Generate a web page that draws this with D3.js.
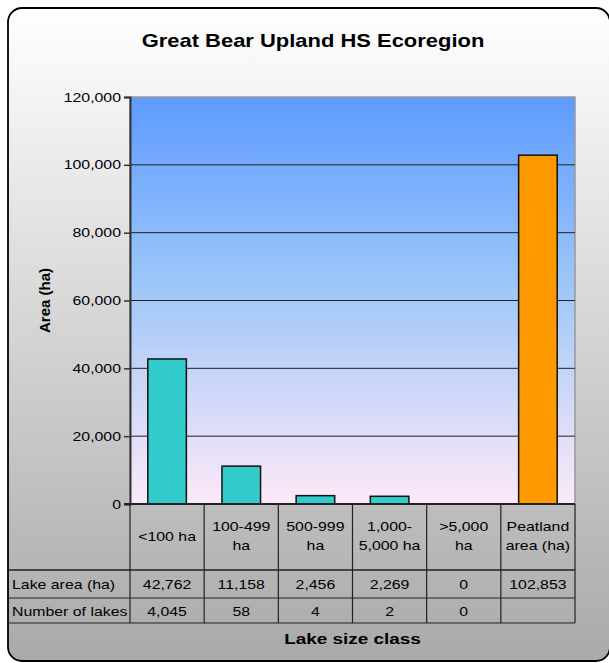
<!DOCTYPE html>
<html lang="en">
<head>
<meta charset="UTF-8">
<title>Great Bear Upland HS Ecoregion</title>
<script src="https://d3js.org/d3.v7.min.js"></script>
<style>
  body { margin: 0; background: #fff; }
  text { font-family: "Liberation Sans", Arial, sans-serif; fill: #000; }
</style>
</head>
<body>
<div id="chart"></div>
<script>
// data
const categories = ["<100 ha", "100-499 ha", "500-999 ha", "1,000-5,000 ha", ">5,000 ha", "Peatland area (ha)"];
const catLines = [["<100 ha"], ["100-499", "ha"], ["500-999", "ha"], ["1,000-", "5,000 ha"], [">5,000", "ha"], ["Peatland", "area (ha)"]];
const lakeArea = [42762, 11158, 2456, 2269, 0, 102853];
const numberOfLakes = ["4,045", "58", "4", "2", "0", ""];
const yTicks = [0, 20000, 40000, 60000, 80000, 100000, 120000];

const width = 609, height = 663;
const plot = { left: 130, right: 575, top: 97, bottom: 504 };
const rowBottoms = [570, 598, 623];
const stretch = 1.22; // the original text is a bit wider than Arial

const svg = d3.select("#chart").append("svg")
  .attr("width", width).attr("height", height);

const defs = svg.append("defs");
const bgGrad = defs.append("linearGradient").attr("id", "bg")
  .attr("x1", 0).attr("y1", 0).attr("x2", 0).attr("y2", 1);
bgGrad.append("stop").attr("offset", "0%").attr("stop-color", "#ffffff");
bgGrad.append("stop").attr("offset", "100%").attr("stop-color", "#a9a9a9");

const plotGrad = defs.append("linearGradient").attr("id", "plotbg")
  .attr("x1", 0).attr("y1", 0).attr("x2", 0).attr("y2", 1);
plotGrad.append("stop").attr("offset", "0%").attr("stop-color", "#5e9bff");
plotGrad.append("stop").attr("offset", "45%").attr("stop-color", "#9cc6f8");
plotGrad.append("stop").attr("offset", "100%").attr("stop-color", "#fde9f8");

// chart frame
svg.append("rect")
  .attr("x", 8).attr("y", 8).attr("width", 602).attr("height", 653)
  .attr("rx", 14).attr("ry", 14)
  .attr("fill", "url(#bg)").attr("stroke", "#000").attr("stroke-width", 1.8);

svg.append("text")
  .attr("class", "wide")
  .attr("x", 313).attr("y", 47)
  .attr("text-anchor", "middle")
  .style("font-size", "18px").style("font-weight", "bold")
  .text("Great Bear Upland HS Ecoregion");

const x = d3.scaleBand().domain(categories).range([plot.left, plot.right]);
const y = d3.scaleLinear().domain([0, 120000]).range([plot.bottom, plot.top]);

// plot area
svg.append("rect")
  .attr("x", plot.left).attr("y", plot.top)
  .attr("width", plot.right - plot.left).attr("height", plot.bottom - plot.top)
  .attr("fill", "url(#plotbg)").attr("stroke", "#999").attr("stroke-width", 1.5);

// gridlines
svg.append("g").selectAll("line")
  .data(yTicks.filter(d => d > 0 && d < 120000))
  .join("line")
  .attr("x1", plot.left).attr("x2", plot.right)
  .attr("y1", d => y(d)).attr("y2", d => y(d))
  .attr("stroke", "#222").attr("stroke-width", 1);

// y axis
const yAxis = svg.append("g")
  .attr("transform", `translate(${plot.left},0)`)
  .call(d3.axisLeft(y).tickValues(yTicks).tickSize(6).tickPadding(3)
    .tickFormat(d3.format(",")));
yAxis.select(".domain").attr("stroke", "#333").attr("stroke-width", 2);
yAxis.selectAll(".tick line").attr("stroke", "#333").attr("stroke-width", 1.5);
yAxis.selectAll(".tick text").attr("class", "wide").style("font-size", "13px")
  .style("font-family", "'Liberation Sans', Arial, sans-serif").attr("fill", "#000");

svg.append("text")
  .attr("transform", `translate(50,${(plot.top + plot.bottom) / 2}) rotate(-90)`)
  .attr("text-anchor", "middle")
  .style("font-size", "15px").style("font-weight", "bold")
  .text("Area (ha)");

// bars
const barW = x.bandwidth() * 0.52;
svg.append("g").selectAll("rect")
  .data(lakeArea)
  .join("rect")
  .attr("x", (d, i) => x(categories[i]) + (x.bandwidth() - barW) / 2)
  .attr("y", d => y(d))
  .attr("width", barW)
  .attr("height", d => y(0) - y(d))
  .attr("fill", (d, i) => i === 5 ? "#ff9900" : "#33cccc")
  .attr("stroke", "#111").attr("stroke-width", d => d > 0 ? 1.5 : 0);

// data table
const table = svg.append("g").attr("stroke", "#222").attr("stroke-width", 1.2);
table.append("line").attr("x1", plot.left - 6).attr("x2", plot.right)
  .attr("y1", plot.bottom).attr("y2", plot.bottom).attr("stroke-width", 2);
rowBottoms.forEach((yy, i) => {
  table.append("line").attr("x1", 8).attr("x2", plot.right)
    .attr("y1", yy).attr("y2", yy).attr("stroke-width", i === 0 ? 1.5 : 1.2);
});
x.domain().concat([null]).forEach(c => {
  const xx = c === null ? plot.right : x(c);
  table.append("line").attr("x1", xx).attr("x2", xx)
    .attr("y1", plot.bottom).attr("y2", rowBottoms[2]);
});

svg.append("g").selectAll("text")
  .data(catLines)
  .join("text")
  .attr("class", "wide")
  .attr("text-anchor", "middle")
  .style("font-size", "13px")
  .attr("x", (d, i) => x(categories[i]) + x.bandwidth() / 2)
  .attr("y", d => d.length === 1 ? 541 : 531)
  .selectAll("tspan")
  .data(d => d)
  .join("tspan")
  .attr("x", function () { return this.parentNode.getAttribute("x"); })
  .attr("dy", (d, i) => i === 0 ? 0 : 19)
  .text(d => d);

const rows = [
  { label: "Lake area (ha)", values: lakeArea.map(d3.format(",")), y: 589 },
  { label: "Number of lakes", values: numberOfLakes, y: 616 }
];
rows.forEach(r => {
  svg.append("text").attr("class", "wide").attr("x", 12).attr("y", r.y)
    .style("font-size", "13px").text(r.label);
  svg.append("g").selectAll("text")
    .data(r.values)
    .join("text")
    .attr("class", "wide")
    .attr("text-anchor", "middle")
    .style("font-size", "13px")
    .attr("x", (d, i) => x(categories[i]) + x.bandwidth() / 2)
    .attr("y", r.y)
    .text(d => d);
});

svg.append("text")
  .attr("class", "wide")
  .attr("x", (plot.left + plot.right) / 2).attr("y", 644)
  .attr("text-anchor", "middle")
  .style("font-size", "15.5px").style("font-weight", "bold")
  .text("Lake size class");

// widen text horizontally around its anchor point
svg.selectAll("text.wide").each(function () {
  const ax = +this.getAttribute("x") || 0;
  d3.select(this).attr("transform", `translate(${ax},0) scale(${stretch},1) translate(${-ax},0)`);
});
</script>
</body>
</html>
